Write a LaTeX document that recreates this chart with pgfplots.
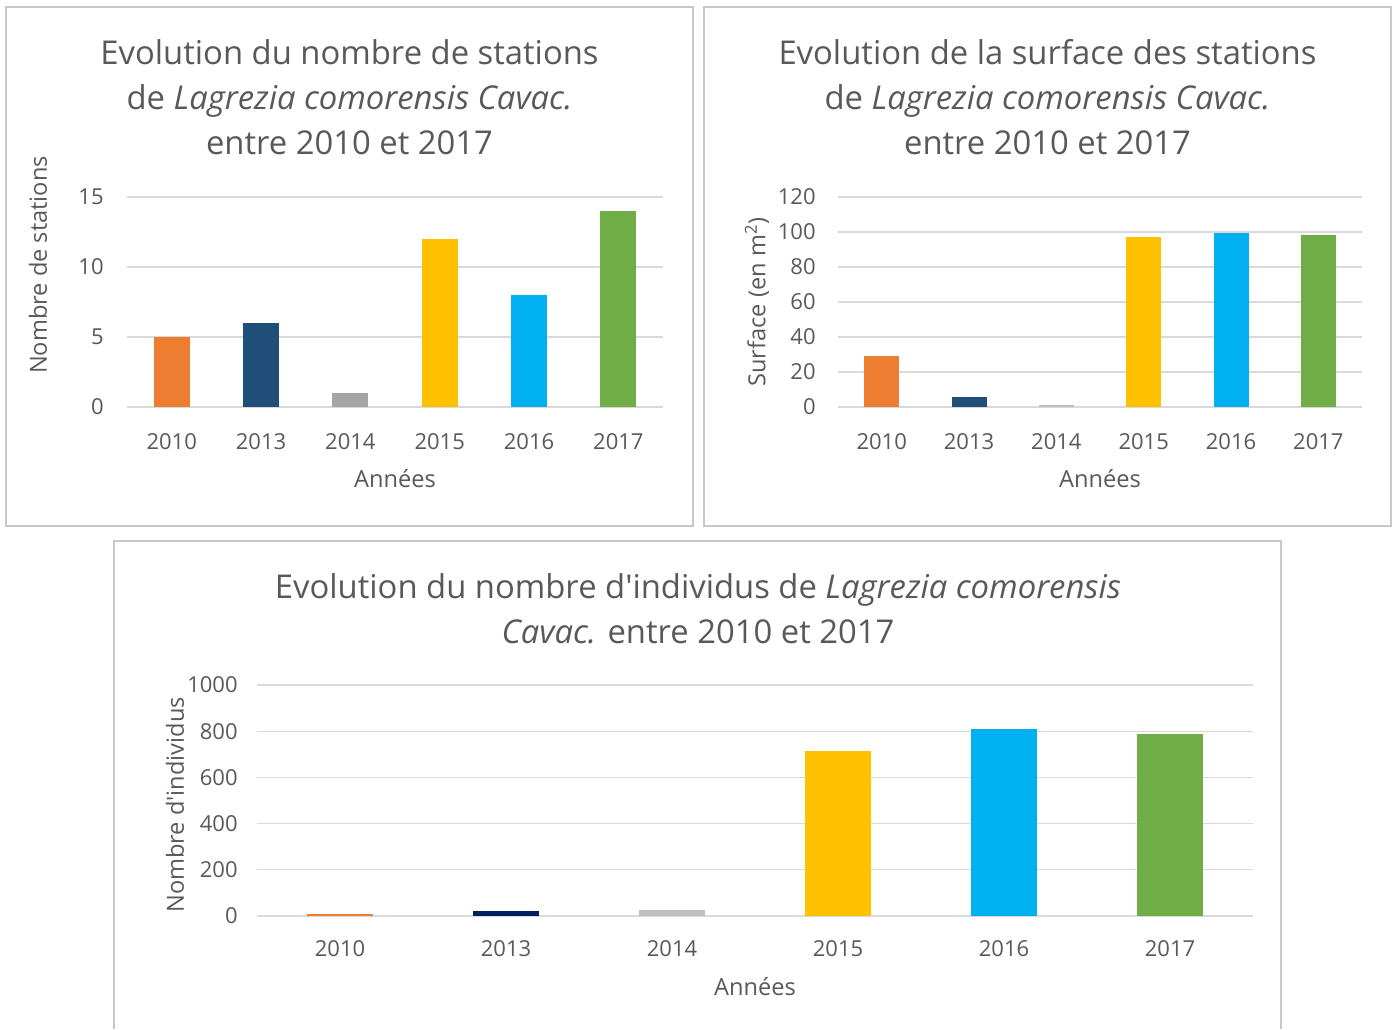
\documentclass[border=0pt]{standalone}
\usepackage{pgfplots}
\pgfplotsset{compat=1.18}
\usepackage{fontspec}
\setmainfont{Open Sans}
\definecolor{txt}{RGB}{89,89,89}
\definecolor{gridc}{RGB}{217,217,217}
\definecolor{framec}{RGB}{200,200,200}
\definecolor{c2010}{HTML}{ED7D31}
\definecolor{c2013}{HTML}{1F4E79}
\definecolor{c2013b}{HTML}{002060}
\definecolor{c2014}{HTML}{A5A5A5}
\definecolor{c2014b}{HTML}{BFBFBF}
\definecolor{c2015}{HTML}{FFC000}
\definecolor{c2016}{HTML}{00B0F0}
\definecolor{c2017}{HTML}{70AD47}
\newcommand\tkf{\fontsize{11}{13}\selectfont}
\newcommand\lbf{\fontsize{11.8}{14}\selectfont}
\newcommand\ttf{\fontsize{16.4}{22.5}\selectfont}
\pgfplotsset{
  panel/.style={
    scale only axis,
    anchor=south west,
    xmin=-0.5, xmax=5.5, ymin=0,
    xtick={0,1,2,3,4,5},
    xticklabels={2010,2013,2014,2015,2016,2017},
    axis line style={draw=none},
    major tick length=0pt,
    ymajorgrids,
    major grid style={gridc, line width=0.6pt},
    /pgf/number format/assume math mode=true,
    /pgf/number format/1000 sep={},
    tick label style={font=\tkf, text=txt, inner sep=0pt},
    ybar, bar shift=0pt,
    every axis plot/.append style={draw=none},
    clip=false,
  }
}
\begin{document}
\begin{tikzpicture}
\path[use as bounding box] (0,0) rectangle (698.5pt,514.5pt);
\fill[white] (0,0) rectangle (698.5pt,514.5pt);
% frames
\draw[framec, line width=1pt] (3pt,251.5pt) rectangle (346.5pt,511pt);
\draw[framec, line width=1pt] (352pt,251.5pt) rectangle (695.5pt,511pt);
\draw[framec, line width=1pt] (57pt,0pt) -- (57pt,244pt) -- (640.5pt,244pt) -- (640.5pt,0pt);

% Panel 1
\begin{axis}[panel, at={(63.5pt,311pt)}, width=268pt, height=105pt,
  ymax=15, ytick={0,5,10,15}, bar width=18pt,
  xticklabel style={anchor=base, yshift=-21.5pt},
  yticklabel style={anchor=east, xshift=-11.5pt}]
\addplot[fill=c2010] coordinates {(0,5)};
\addplot[fill=c2013] coordinates {(1,6)};
\addplot[fill=c2014] coordinates {(2,1)};
\addplot[fill=c2015] coordinates {(3,12)};
\addplot[fill=c2016] coordinates {(4,8)};
\addplot[fill=c2017] coordinates {(5,14)};
\end{axis}

% Panel 2
\begin{axis}[panel, at={(419pt,311pt)}, width=262pt, height=105pt,
  ymax=120, ytick={0,20,40,60,80,100,120}, bar width=17.5pt,
  xticklabel style={anchor=base, yshift=-21.5pt},
  yticklabel style={anchor=east, xshift=-11pt}]
\addplot[fill=c2010] coordinates {(0,29)};
\addplot[fill=c2013] coordinates {(1,5.5)};
\addplot[fill=c2014b] coordinates {(2,1)};
\addplot[fill=c2015] coordinates {(3,97)};
\addplot[fill=c2016] coordinates {(4,99.5)};
\addplot[fill=c2017] coordinates {(5,98.5)};
\end{axis}

% Panel 3
\begin{axis}[panel, at={(128.5pt,56.5pt)}, width=498pt, height=115.5pt,
  ymax=1000, ytick={0,200,400,600,800,1000}, bar width=33pt,
  xticklabel style={anchor=base, yshift=-20pt},
  yticklabel style={anchor=east, xshift=-9.5pt}]
\addplot[fill=c2010] coordinates {(0,7)};
\addplot[fill=c2013b] coordinates {(1,20)};
\addplot[fill=c2014b] coordinates {(2,27)};
\addplot[fill=c2015] coordinates {(3,714)};
\addplot[fill=c2016] coordinates {(4,810)};
\addplot[fill=c2017] coordinates {(5,788)};
\end{axis}

% Titles
\node[text=txt, align=center, font=\ttf] at (174.75pt,466pt)
  {Evolution du nombre de stations\\de \textit{Lagrezia comorensis Cavac.}\\entre 2010 et 2017};
\node[text=txt, align=center, font=\ttf] at (523.75pt,466pt)
  {Evolution de la surface des stations\\de \textit{Lagrezia comorensis Cavac.}\\entre 2010 et 2017};
\node[text=txt, align=center, font=\ttf] at (349pt,210.25pt)
  {Evolution du nombre d\textquotesingle individus de \textit{Lagrezia comorensis}\\\textit{Cavac.\nocorr} entre 2010 et 2017};

% Axis labels
\node[text=txt, rotate=90, font=\lbf] at (19pt,382pt) {Nombre de stations};
\node[text=txt, rotate=90, font=\lbf] at (378.5pt,363.5pt) {Surface (en m\textsuperscript{2})};
\node[text=txt, rotate=90, font=\lbf] at (87.5pt,112pt) {Nombre d\textquotesingle individus};
\node[text=txt, font=\lbf] at (197.5pt,275pt) {Années};
\node[text=txt, font=\lbf] at (550pt,275pt) {Années};
\node[text=txt, font=\lbf] at (377.5pt,21pt) {Années};
\end{tikzpicture}
\end{document}
